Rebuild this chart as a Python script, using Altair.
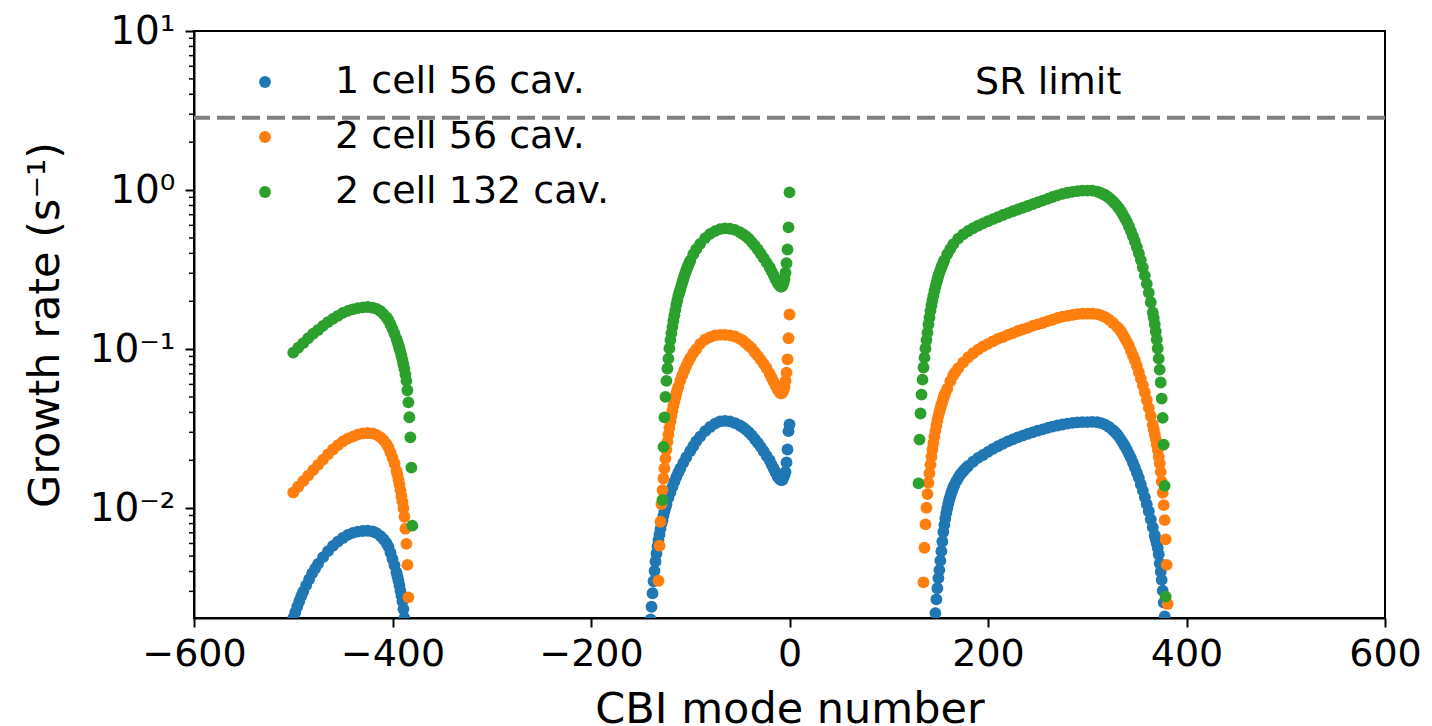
import altair as alt
import pandas as pd

# Coupled-bunch growth rates: (CBI mode number, growth rate in 1/s)
# 1 cell, 56 cavities
one_cell_56_a = [
    (-500, 0.00204), (-498, 0.00221), (-496, 0.00240), (-494, 0.00259), (-492, 0.00279),
    (-490, 0.00299), (-487, 0.00327), (-484, 0.00357), (-481, 0.00389), (-478, 0.00417),
    (-475, 0.00447), (-470, 0.00492), (-465, 0.00537), (-460, 0.00579), (-455, 0.00617),
    (-450, 0.00650), (-445, 0.00679), (-440, 0.00700), (-435, 0.00713), (-430, 0.00719),
    (-425, 0.00721), (-420, 0.00714), (-416, 0.00697), (-412, 0.00668), (-409, 0.00638),
    (-406, 0.00603), (-404, 0.00571), (-402, 0.00525), (-400, 0.00479), (-398, 0.00437),
    (-396, 0.00394), (-395, 0.00372), (-394, 0.00351), (-393, 0.00327), (-392, 0.00302),
    (-391, 0.00282), (-390, 0.00260), (-389, 0.00232), (-388, 0.00204),
]
one_cell_56_b = [
    (-140, 0.00200), (-139, 0.00240), (-138, 0.00292), (-137, 0.00347), (-136, 0.00403),
    (-135, 0.00462), (-134, 0.00519), (-133, 0.00575), (-132, 0.00631), (-131, 0.00684),
    (-130, 0.00741), (-129, 0.00794), (-128, 0.00841), (-127, 0.00897), (-126, 0.00955),
    (-125, 0.01007), (-124, 0.01059), (-122, 0.01161), (-120, 0.01259), (-118, 0.01361),
    (-116, 0.01466), (-114, 0.01570), (-112, 0.01675), (-110, 0.01778), (-107, 0.01928),
    (-104, 0.0209), (-100, 0.0229), (-97, 0.0245), (-94, 0.0263), (-90, 0.0282),
    (-85, 0.0305), (-80, 0.0324), (-75, 0.0340), (-70, 0.0351), (-65, 0.0354),
    (-60, 0.0351), (-55, 0.0343), (-50, 0.0331), (-47, 0.0322), (-44, 0.0312),
    (-41, 0.0301), (-38, 0.0287), (-35, 0.0272), (-32, 0.0258), (-29, 0.0243),
    (-26, 0.0228), (-23, 0.0213), (-20, 0.0200), (-18, 0.0188), (-16, 0.0178),
    (-14, 0.0168), (-12, 0.0158), (-10, 0.0153), (-9, 0.0151), (-8, 0.0150),
    (-7, 0.0151), (-6, 0.0157), (-5, 0.0162), (-4, 0.0169), (-3, 0.0194),
    (-2, 0.0234), (-1, 0.0305), (0, 0.0336),
]
one_cell_56_c = [
    (147, 0.00219), (148, 0.00267), (149, 0.00314), (150, 0.00363), (151, 0.00408),
    (152, 0.00468), (153, 0.00537), (154, 0.00617), (155, 0.00708), (156, 0.00785),
    (157, 0.00861), (158, 0.00933), (159, 0.0100), (160, 0.01072), (161, 0.0113),
    (162, 0.01189), (163, 0.01245), (164, 0.01297), (165, 0.01349), (166, 0.01393),
    (168, 0.01479), (170, 0.01549), (172, 0.01622), (174, 0.01683), (176, 0.01738),
    (178, 0.01791), (180, 0.01841), (185, 0.01959), (190, 0.0207), (195, 0.0216),
    (200, 0.0226), (205, 0.0236), (210, 0.0245), (215, 0.0254), (220, 0.0263),
    (225, 0.0271), (230, 0.0279), (235, 0.0286), (240, 0.0293), (245, 0.0300),
    (250, 0.0307), (255, 0.0313), (260, 0.0320), (265, 0.0326), (270, 0.0331),
    (275, 0.0336), (280, 0.0340), (285, 0.0344), (290, 0.0346), (295, 0.0348),
    (300, 0.0348), (305, 0.0349), (310, 0.0347), (314, 0.0343), (318, 0.0335),
    (322, 0.0324), (326, 0.0309), (328, 0.0301), (330, 0.0292), (332, 0.0281),
    (334, 0.0269), (336, 0.0257), (338, 0.0245), (340, 0.0232), (342, 0.0219),
    (344, 0.0207), (346, 0.0193), (348, 0.0180), (350, 0.0167), (352, 0.0155),
    (354, 0.0141), (356, 0.0129), (358, 0.0117), (360, 0.0106), (362, 0.00955),
    (364, 0.00851), (366, 0.00759), (368, 0.00676), (369, 0.00637), (370, 0.00600),
    (371, 0.00562), (372, 0.00513), (373, 0.00450), (374, 0.00399), (375, 0.00354),
    (376, 0.00303), (377, 0.00255), (378, 0.00209),
]

# 2 cell, 56 cavities
two_cell_56_a = [
    (-500, 0.01256), (-495, 0.01365), (-490, 0.01479), (-485, 0.01603), (-480, 0.01734),
    (-475, 0.01871), (-470, 0.0202), (-465, 0.0218), (-460, 0.0234), (-455, 0.0249),
    (-450, 0.0263), (-445, 0.0274), (-440, 0.0282), (-435, 0.0290), (-430, 0.0295),
    (-425, 0.0297), (-420, 0.0295), (-416, 0.0289), (-412, 0.0279), (-409, 0.0268),
    (-406, 0.0253), (-404, 0.0240), (-402, 0.0224), (-400, 0.0207), (-398, 0.0191),
    (-396, 0.0172), (-395, 0.0162), (-394, 0.0151), (-393, 0.0141), (-392, 0.0130),
    (-391, 0.0119), (-390, 0.0110), (-389, 0.0100), (-388, 0.00883), (-387, 0.00743),
    (-386, 0.00596), (-385, 0.00440), (-384, 0.00275),
]
two_cell_56_b = [
    (-132, 0.00350), (-131, 0.00581), (-130, 0.00822), (-129, 0.01062), (-128, 0.0130),
    (-127, 0.01538), (-126, 0.01778), (-125, 0.0205), (-124, 0.0233), (-123, 0.0261),
    (-122, 0.0290), (-121, 0.0320), (-120, 0.0350), (-119, 0.0380), (-118, 0.0410),
    (-117, 0.0440), (-116, 0.0469), (-115, 0.0498), (-114, 0.0526), (-113, 0.0553),
    (-112, 0.0581), (-110, 0.0634), (-108, 0.0686), (-106, 0.0736), (-104, 0.0785),
    (-102, 0.0834), (-100, 0.0879), (-97, 0.0944), (-94, 0.100), (-90, 0.108),
    (-85, 0.115), (-80, 0.119), (-75, 0.122), (-70, 0.123), (-65, 0.123),
    (-60, 0.122), (-55, 0.120), (-50, 0.116), (-47, 0.113), (-44, 0.109),
    (-41, 0.105), (-38, 0.101), (-35, 0.0955), (-32, 0.0907), (-29, 0.0856),
    (-26, 0.0808), (-23, 0.0758), (-20, 0.0700), (-18, 0.0661), (-16, 0.0624),
    (-14, 0.0589), (-12, 0.0556), (-10, 0.0537), (-9, 0.0528), (-8, 0.0528),
    (-7, 0.0537), (-6, 0.0552), (-5, 0.0582), (-4, 0.0631), (-3, 0.0711),
    (-2, 0.0863), (-1, 0.117), (0, 0.165),
]
two_cell_56_c = [
    (135, 0.00342), (136, 0.00564), (137, 0.00791), (138, 0.01007), (139, 0.01227),
    (140, 0.01445), (141, 0.0166), (142, 0.0188), (143, 0.0211), (144, 0.0234),
    (145, 0.0257), (146, 0.0282), (147, 0.0306), (148, 0.0331), (149, 0.0356),
    (150, 0.0380), (151, 0.0402), (152, 0.0424), (153, 0.0445), (154, 0.0466),
    (155, 0.0490), (156, 0.0513), (157, 0.0530), (159, 0.0565), (162, 0.0628),
    (165, 0.0684), (167, 0.0716), (170, 0.0759), (175, 0.0826), (180, 0.0887),
    (185, 0.0942), (190, 0.0993), (195, 0.104), (200, 0.108), (205, 0.112),
    (210, 0.116), (215, 0.119), (220, 0.123), (225, 0.126), (230, 0.130),
    (235, 0.133), (240, 0.136), (245, 0.140), (250, 0.143), (255, 0.146),
    (260, 0.150), (265, 0.153), (270, 0.157), (275, 0.160), (280, 0.162),
    (285, 0.164), (290, 0.166), (295, 0.167), (300, 0.167), (305, 0.167),
    (310, 0.166), (314, 0.163), (318, 0.159), (322, 0.153), (326, 0.146),
    (330, 0.138), (332, 0.134), (334, 0.129), (336, 0.123), (338, 0.117),
    (340, 0.111), (342, 0.105), (344, 0.0977), (346, 0.0912), (348, 0.0851),
    (350, 0.0785), (352, 0.0716), (354, 0.0653), (356, 0.0593), (358, 0.0535),
    (360, 0.0479), (362, 0.0427), (364, 0.0380), (366, 0.0335), (367, 0.0313),
    (368, 0.0292), (369, 0.0272), (370, 0.0251), (371, 0.0232), (372, 0.0211),
    (373, 0.0191), (374, 0.0169), (375, 0.0147), (376, 0.0125), (377, 0.01045),
    (378, 0.00841), (379, 0.00637), (380, 0.00440), (381, 0.00250),
]

# 2 cell, 132 cavities
two_cell_132_a = [
    (-500, 0.0951), (-495, 0.102), (-490, 0.109), (-485, 0.117), (-480, 0.125),
    (-475, 0.132), (-470, 0.140), (-465, 0.148), (-460, 0.155), (-455, 0.162),
    (-450, 0.169), (-445, 0.174), (-440, 0.178), (-435, 0.181), (-430, 0.183),
    (-425, 0.184), (-420, 0.182), (-416, 0.179), (-412, 0.173), (-409, 0.166),
    (-406, 0.158), (-404, 0.152), (-402, 0.143), (-400, 0.134), (-398, 0.125),
    (-396, 0.116), (-395, 0.111), (-394, 0.106), (-393, 0.101), (-392, 0.0959),
    (-391, 0.0908), (-390, 0.0855), (-389, 0.0804), (-388, 0.0750), (-387, 0.0692),
    (-386, 0.0631), (-385, 0.0551), (-384, 0.0463), (-383, 0.0373), (-382, 0.0279),
    (-381, 0.0180), (-380, 0.00776),
]
two_cell_132_b = [
    (-128, 0.01125), (-127, 0.0243), (-126, 0.0372), (-125, 0.0501), (-124, 0.0631),
    (-123, 0.0755), (-122, 0.0871), (-121, 0.101), (-120, 0.114), (-119, 0.126),
    (-118, 0.138), (-117, 0.151), (-116, 0.163), (-115, 0.176), (-114, 0.190),
    (-113, 0.203), (-112, 0.217), (-111, 0.227), (-110, 0.237), (-109, 0.250),
    (-108, 0.263), (-107, 0.275), (-106, 0.288), (-105, 0.301), (-104, 0.313),
    (-103, 0.325), (-102, 0.337), (-101, 0.348), (-100, 0.360), (-97, 0.394),
    (-94, 0.425), (-90, 0.459), (-85, 0.499), (-80, 0.530), (-75, 0.552),
    (-70, 0.568), (-65, 0.574), (-60, 0.571), (-55, 0.562), (-50, 0.543),
    (-47, 0.529), (-44, 0.513), (-41, 0.494), (-38, 0.471), (-35, 0.447),
    (-32, 0.423), (-29, 0.398), (-26, 0.373), (-23, 0.350), (-20, 0.327),
    (-18, 0.309), (-16, 0.292), (-14, 0.275), (-12, 0.260), (-10, 0.251),
    (-9, 0.247), (-8, 0.247), (-7, 0.251), (-6, 0.260), (-5, 0.275),
    (-4, 0.302), (-3, 0.347), (-2, 0.423), (-1, 0.583), (0, 0.968),
]
two_cell_132_c = [
    (130, 0.01432), (131, 0.0270), (132, 0.0394), (133, 0.0518), (134, 0.0643),
    (135, 0.0766), (136, 0.0885), (137, 0.101), (138, 0.114), (139, 0.127),
    (140, 0.143), (141, 0.158), (142, 0.174), (143, 0.188), (144, 0.203),
    (145, 0.217), (146, 0.232), (147, 0.246), (148, 0.260), (149, 0.274),
    (150, 0.288), (151, 0.301), (152, 0.314), (153, 0.326), (154, 0.338),
    (155, 0.351), (156, 0.363), (159, 0.396), (162, 0.426), (165, 0.457),
    (170, 0.495), (175, 0.527), (180, 0.553), (185, 0.575), (190, 0.597),
    (195, 0.617), (200, 0.637), (205, 0.656), (210, 0.676), (215, 0.697),
    (220, 0.716), (225, 0.736), (230, 0.755), (235, 0.774), (240, 0.794),
    (245, 0.815), (250, 0.836), (255, 0.859), (260, 0.881), (265, 0.904),
    (270, 0.927), (275, 0.946), (280, 0.962), (285, 0.975), (290, 0.984),
    (295, 0.991), (300, 0.993), (305, 0.991), (310, 0.977), (312, 0.968),
    (314, 0.957), (316, 0.944), (318, 0.931), (320, 0.912), (322, 0.893),
    (324, 0.871), (326, 0.847), (328, 0.822), (330, 0.796), (332, 0.767),
    (334, 0.735), (336, 0.700), (338, 0.665), (340, 0.631), (342, 0.592),
    (344, 0.552), (346, 0.513), (348, 0.475), (350, 0.437), (352, 0.400),
    (354, 0.363), (356, 0.326), (358, 0.290), (360, 0.257), (362, 0.226),
    (364, 0.197), (366, 0.170), (367, 0.157), (368, 0.143), (369, 0.129),
    (370, 0.115), (371, 0.101), (372, 0.0871), (373, 0.0743), (374, 0.0617),
    (375, 0.0489), (376, 0.0370), (377, 0.0251), (378, 0.0138), (379, 0.00278),
]

SERIES = ["1 cell 56 cav.", "2 cell 56 cav.", "2 cell 132 cav."]
COLORS = ["#1f77b4", "#ff7f0e", "#2ca02c"]
SR_LIMIT = 2.85
X_TICKS = [-600, -400, -200, 0, 200, 400, 600]
Y_TICKS = [0.01, 0.1, 1, 10]
Y_MINOR = [0.003, 0.004, 0.005, 0.006, 0.007, 0.008, 0.009,
           0.02, 0.03, 0.04, 0.05, 0.06, 0.07, 0.08, 0.09,
           0.2, 0.3, 0.4, 0.5, 0.6, 0.7, 0.8, 0.9,
           2, 3, 4, 5, 6, 7, 8, 9]

series_points = {
    SERIES[0]: one_cell_56_a + one_cell_56_b + one_cell_56_c,
    SERIES[1]: two_cell_56_a + two_cell_56_b + two_cell_56_c,
    SERIES[2]: two_cell_132_a + two_cell_132_b + two_cell_132_c,
}
rows = []
for name in SERIES:
    for mode, rate in series_points[name]:
        rows.append({"mode": mode, "rate": rate, "config": name})
df = pd.DataFrame(rows)

FONT = "DejaVu Sans"
W, H = 1191, 587
DOT = 140

x_scale = alt.Scale(domain=[-600, 600], nice=False, zero=False)
y_scale = alt.Scale(type="log", domain=[0.00204, 10], nice=False)

y_label_expr = (
    "datum.value >= 5 ? '10\u00b9' : datum.value >= 0.5 ? '10\u2070' : "
    "datum.value >= 0.05 ? '10\u207b\u00b9' : '10\u207b\u00b2'"
)

x_axis = alt.Axis(values=X_TICKS, title="CBI mode number", format="d",
                  labelFlush=False, labelPadding=8, labelFontSize=38,
                  titleFontSize=43, titleY=104, titleBaseline="alphabetic")
y_axis = alt.Axis(values=Y_TICKS, labelExpr=y_label_expr, labelFontSize=39,
                  title="Growth rate (s\u207b\u00b9)", labelPadding=10,
                  titleFontSize=43, titleX=-136, titleY=H / 2,
                  titleBaseline="alphabetic", titleAngle=270, titleAlign="center")

points = alt.Chart(df).mark_circle(size=DOT, opacity=1, clip=True).encode(
    x=alt.X("mode:Q", scale=x_scale, axis=x_axis),
    y=alt.Y("rate:Q", scale=y_scale, axis=y_axis),
    color=alt.Color("config:N", scale=alt.Scale(domain=SERIES, range=COLORS),
                    legend=alt.Legend(title=None, orient="none", legendX=52, legendY=32,
                                      symbolType="circle", symbolSize=DOT,
                                      symbolStrokeWidth=0, labelFontSize=38,
                                      labelLimit=600, labelOffset=51, rowPadding=17,
                                      padding=0, labelFont=FONT, labelColor="black")),
)

minor_ticks = alt.Chart(pd.DataFrame({"v": Y_MINOR})).mark_rule(
    color="black", strokeWidth=1.5
).encode(
    y=alt.Y("v:Q", scale=y_scale, axis=y_axis),
    x=alt.value(0),
    x2=alt.value(-5),
)

sr_line = alt.Chart(pd.DataFrame({"limit": [SR_LIMIT]})).mark_rule(
    color="#808080", strokeWidth=4, strokeDash=[18, 7]
).encode(y=alt.Y("limit:Q", scale=y_scale, axis=y_axis))

sr_text = alt.Chart(pd.DataFrame({"label": ["SR limit"]})).mark_text(
    align="left", baseline="middle", fontSize=38, font=FONT, color="black"
).encode(
    x=alt.XDatum(187, scale=x_scale, axis=x_axis),
    y=alt.YDatum(4.7, scale=y_scale, axis=y_axis),
    text="label:N",
)

chart = alt.layer(points, sr_line, minor_ticks, sr_text).properties(
    width=W, height=H,
    padding={"left": 194, "top": 31, "right": 47, "bottom": 108},
    autosize=alt.AutoSizeParams(type="none"),
).configure(font=FONT).configure_view(
    stroke="black", strokeWidth=2
).configure_axis(
    domainColor="black", domainWidth=2, tickColor="black", tickWidth=2, tickSize=9,
    labelColor="black", labelFont=FONT,
    titleColor="black", titleFont=FONT, titleFontWeight="normal",
    grid=False,
)

chart.save("out.html", embed_options={"renderer": "svg", "actions": False})
